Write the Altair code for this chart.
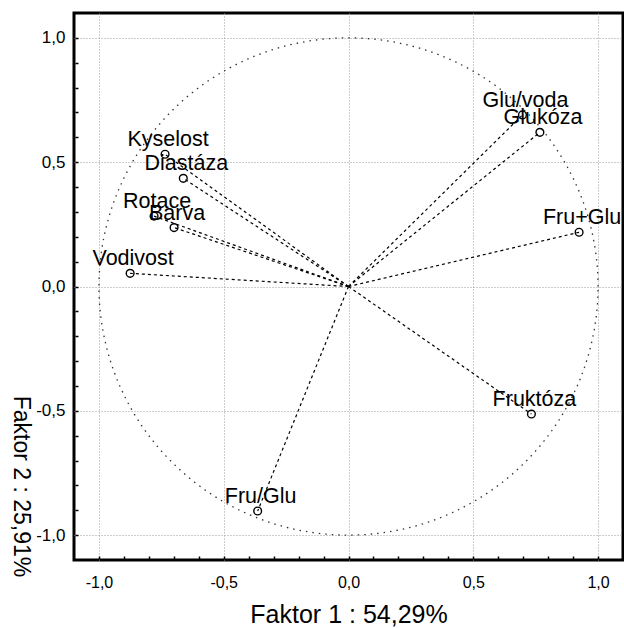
import altair as alt
import pandas as pd
import numpy as np

# Loadings
names = ["Kyselost", "Diastáza", "Rotace", "Barva", "Vodivost",
         "Glu/voda", "Glukóza", "Fru+Glu", "Fruktóza", "Fru/Glu"]
factor1 = [-0.735, -0.662, -0.779, -0.699, -0.875, 0.697, 0.767, 0.924, 0.733, -0.364]
factor2 = [0.532, 0.435, 0.283, 0.237, 0.053, 0.690, 0.620, 0.218, -0.513, -0.903]

tick_values = [round(-1.0 + 0.1 * i, 1) for i in range(21)]
x_title = "Faktor 1 : 54,29%"
y_title = "Faktor 2 : 25,91%"

df = pd.DataFrame({"name": names, "f1": factor1, "f2": factor2})

# unit correlation circle (geometric reference shape)
theta = np.linspace(0, 2 * np.pi, 361)
circle = pd.DataFrame({"i": np.arange(361), "cx": np.cos(theta), "cy": np.sin(theta)})

FONT = "Liberation Sans"
sc = alt.Scale(domain=[-1.1, 1.1], nice=False, zero=False)
major = "abs(datum.value*2 - round(datum.value*2)) < 1e-6"
lab = f"{major} ? replace(replace(format(datum.value, '.1f'), '.', ','), '\u2212', '-') : ''"

common = dict(
    values=tick_values, labelExpr=lab, grid=True,
    gridOpacity={"condition": {"test": major, "value": 1}, "value": 0},
    gridColor="#9a9a9a", gridDash=[1, 2], gridWidth=1,
    domain=False, offset=-4, tickSize=3, tickColor="black", tickWidth=1.5,
    labelColor="black", labelFont=FONT, labelOverlap=False,
    titleFont=FONT, titleFontWeight="normal", titleColor="black",
)

xaxis = alt.Axis(title=x_title, labelFontSize=16, labelPadding=15,
                 titleFontSize=25, titleY=66, titleBaseline="alphabetic", **common)
yaxis = alt.Axis(title=y_title, labelFontSize=17, labelPadding=10,
                 titleFontSize=23, titleAngle=90, titleX=-65, titleY=473,
                 titleAlign="center", titleBaseline="alphabetic", **common)


def X(f):
    return alt.X(f, type="quantitative", scale=sc, axis=xaxis)


def Y(f):
    return alt.Y(f, type="quantitative", scale=sc, axis=yaxis)


circ = alt.Chart(circle).mark_line(
    strokeDash=[1.5, 5], color="#333333", strokeWidth=1.3
).encode(x=X("cx"), y=Y("cy"), order="i:Q")

rules = alt.Chart(df).transform_calculate(ox="0", oy="0").mark_rule(
    strokeDash=[3, 3], color="black", strokeWidth=1.2
).encode(x=X("ox"), y=Y("oy"), x2="f1:Q", y2="f2:Q")

pts = alt.Chart(df).mark_point(
    shape="circle", filled=False, size=60, color="black", strokeWidth=1.4, opacity=1
).encode(x=X("f1"), y=Y("f2"))

txt = alt.Chart(df).mark_text(
    align="center", baseline="alphabetic", dx=3, dy=-8, fontSize=21.5, font=FONT, color="black"
).encode(x=X("f1"), y=Y("f2"), text="name:N")

chart = alt.layer(circ, rules, pts, txt).properties(
    width=549, height=547,
    autosize=alt.AutoSizeParams(type="none"),
    padding={"left": 74, "top": 13, "right": 1, "bottom": 68},
    background="white",
).configure_view(stroke="black", strokeWidth=3)

chart.save("out.html", embed_options={"renderer": "svg", "actions": False})
